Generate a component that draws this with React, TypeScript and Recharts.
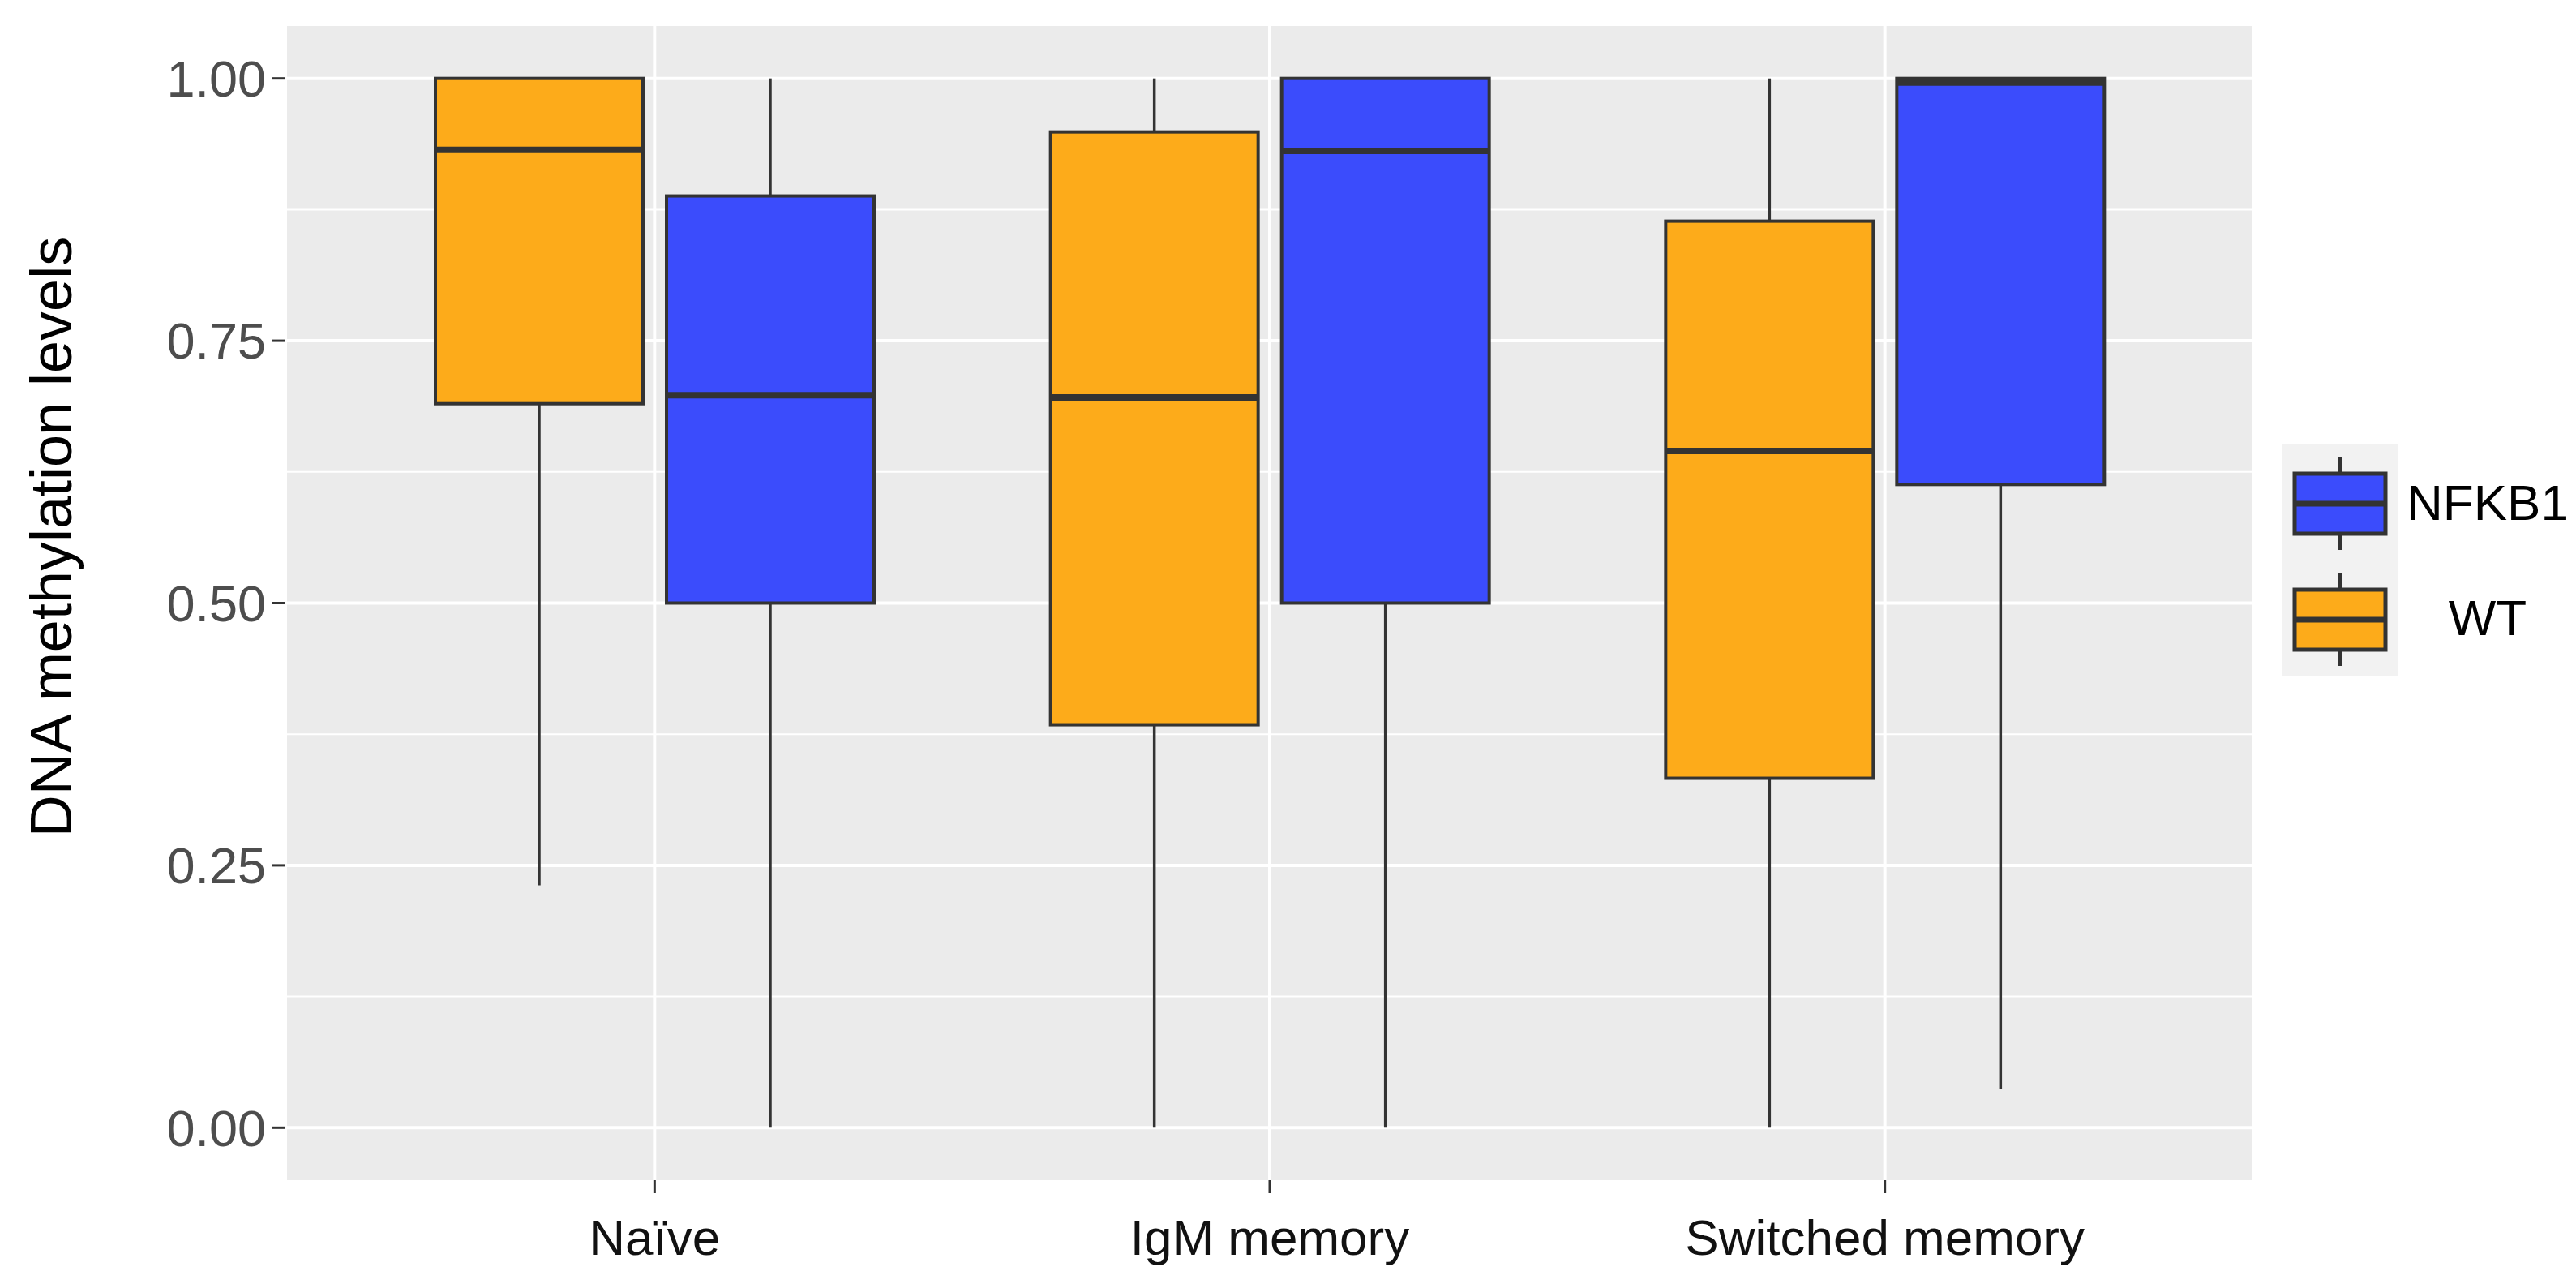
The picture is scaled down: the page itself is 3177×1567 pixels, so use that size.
import { ComposedChart, Bar, XAxis, YAxis, CartesianGrid, Legend } from 'recharts';

const FONT = '"Liberation Sans", Arial, Helvetica, sans-serif';

// categories and box statistics
const CATEGORIES = ['Naïve', 'IgM memory', 'Switched memory'];

const WT_MIN = [0.231, 0, 0];
const WT_Q1 = [0.69, 0.384, 0.333];
const WT_MEDIAN = [0.932, 0.696, 0.645];
const WT_Q3 = [1.0, 0.949, 0.864];
const WT_MAX = [1.0, 1.0, 1.0];

const NF_MIN = [0, 0, 0.037];
const NF_Q1 = [0.5, 0.5, 0.613];
const NF_MEDIAN = [0.698, 0.931, 0.996];
const NF_Q3 = [0.888, 1.0, 1.0];
const NF_MAX = [1.0, 1.0, 1.0];

const Y_TICKS = [0, 0.25, 0.5, 0.75, 1];
const Y_MINOR = [0.125, 0.375, 0.625, 0.875];

// legend order as in the figure
const SERIES = [
  { key: 'nf', name: 'NFKB1', color: '#3B4CFC' },
  { key: 'wt', name: 'WT', color: '#FDAB1A' },
];
const COLOR = { wt: '#FDAB1A', nf: '#3B4CFC' };

const data = CATEGORIES.map((category, i) => ({
  category,
  wt: [WT_MIN[i], WT_MAX[i]],
  nf: [NF_MIN[i], NF_MAX[i]],
  wtStats: { min: WT_MIN[i], q1: WT_Q1[i], median: WT_MEDIAN[i], q3: WT_Q3[i], max: WT_MAX[i] },
  nfStats: { min: NF_MIN[i], q1: NF_Q1[i], median: NF_MEDIAN[i], q3: NF_Q3[i], max: NF_MAX[i] },
}));

const OUTLINE = '#333333';

function BoxShape(props: any) {
  const { x, y, width, height, payload, statsKey, color } = props;
  const s = payload[statsKey];
  const top = Math.min(y, y + height);
  const bottom = Math.max(y, y + height);
  // bar spans [min, max]; map inner stats through the same linear scale
  const py = (v: number) => bottom - ((v - s.min) / (s.max - s.min)) * (bottom - top);
  const cx = x + width / 2;
  const yQ1 = py(s.q1);
  const yQ3 = py(s.q3);
  const yMed = py(s.median);
  return (
    <g>
      <line x1={cx} x2={cx} y1={top} y2={yQ3} stroke={OUTLINE} strokeWidth={3.5} />
      <line x1={cx} x2={cx} y1={yQ1} y2={bottom} stroke={OUTLINE} strokeWidth={3.5} />
      <rect x={x} y={yQ3} width={width} height={yQ1 - yQ3} fill={color} stroke={OUTLINE} strokeWidth={4} />
      <line x1={x} x2={x + width} y1={yMed} y2={yMed} stroke={OUTLINE} strokeWidth={8} />
    </g>
  );
}

function AxisTitle(props: any) {
  const vb = props.viewBox || { x: 0, y: 0 };
  const tx = vb.x + 88;
  const ty = 662;
  return (
    <text
      x={tx}
      y={ty}
      transform={`rotate(-90, ${tx}, ${ty})`}
      textAnchor="middle"
      fontSize={72}
      fontFamily={FONT}
      fill="#000"
    >
      DNA methylation levels
    </text>
  );
}

function LegendContent() {
  return (
    <div style={{ display: 'flex', flexDirection: 'column', fontFamily: FONT }}>
      {SERIES.map(s => (
        <div key={s.name} style={{ display: 'flex', alignItems: 'center', height: 142.5 }}>
          <svg width={142} height={142.5} style={{ display: 'block' }}>
            <rect width={142} height={142.5} fill="#F2F2F2" />
            <line x1={71} x2={71} y1={15} y2={130} stroke={OUTLINE} strokeWidth={6} />
            <rect x={15} y={36} width={112} height={74} fill={s.color} stroke={OUTLINE} strokeWidth={5} />
            <line x1={15} x2={127} y1={73} y2={73} stroke={OUTLINE} strokeWidth={7} />
          </svg>
          <span style={{ width: 222, textAlign: 'center', fontSize: 62, color: '#000' }}>{s.name}</span>
        </div>
      ))}
    </div>
  );
}

export default function App() {
  return (
    <div style={{ width: 3177, height: 1567, background: '#fff' }}>
      <style>{'body{margin:0}'}</style>
      <ComposedChart
        width={3177}
        height={1567}
        data={data}
        margin={{ top: 32, right: 397, bottom: 0, left: 0 }}
        barSize={256}
        barGap={29}
      >
        <CartesianGrid fill="#EBEBEB" stroke="#FFFFFF" strokeWidth={2} vertical={false} horizontalValues={Y_MINOR} />
        <CartesianGrid stroke="#FFFFFF" strokeWidth={4} horizontalValues={Y_TICKS} />
        <XAxis
          dataKey="category"
          height={112}
          padding={{ left: 76, right: 76 }}
          axisLine={false}
          tickSize={16}
          tickMargin={32}
          tickLine={{ stroke: OUTLINE, strokeWidth: 3 }}
          tick={{ fontSize: 62, fill: '#111', fontFamily: FONT }}
        />
        <YAxis
          type="number"
          domain={[-0.05, 1.05]}
          ticks={Y_TICKS}
          allowDataOverflow
          width={352}
          axisLine={false}
          tickSize={16}
          tickMargin={8}
          tickLine={{ stroke: OUTLINE, strokeWidth: 3 }}
          tick={{ fontSize: 63, fill: '#4D4D4D', fontFamily: FONT }}
          tickFormatter={(v: number) => v.toFixed(2)}
          label={<AxisTitle />}
        />
        <Legend
          layout="horizontal"
          verticalAlign="middle"
          align="center"
          wrapperStyle={{ left: 2815, top: 548, width: 364 }}
          content={() => <LegendContent />}
        />
        <Bar
          dataKey="wt"
          name="WT"
          isAnimationActive={false}
          shape={(p: any) => <BoxShape {...p} statsKey="wtStats" color={COLOR.wt} />}
        />
        <Bar
          dataKey="nf"
          name="NFKB1"
          isAnimationActive={false}
          shape={(p: any) => <BoxShape {...p} statsKey="nfStats" color={COLOR.nf} />}
        />
      </ComposedChart>
    </div>
  );
}
